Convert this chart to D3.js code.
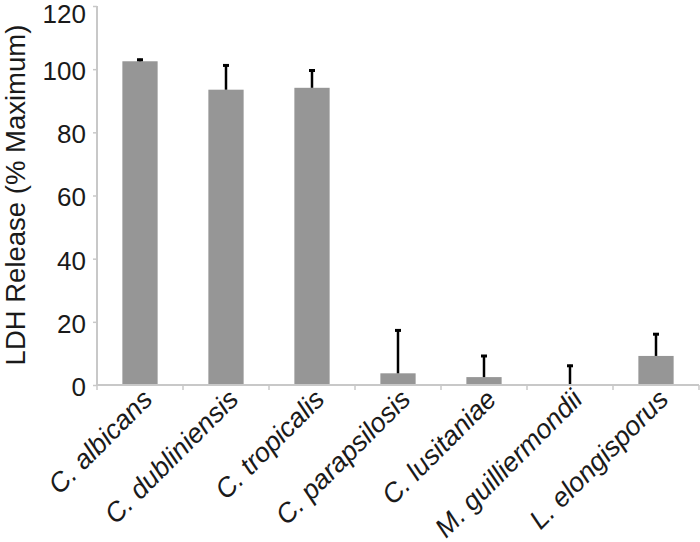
<!DOCTYPE html>
<html>
<head>
<meta charset="utf-8">
<script src="https://cdn.jsdelivr.net/npm/d3@7"></script>
<style>
    body { margin: 0; background: #fff; }
    text { font-family: "Liberation Sans", Arial, sans-serif; fill: #1a1a1a; }
</style>
</head>
<body>
<svg id="chart" width="700" height="542"></svg>
<script>
"use strict";

const species = ["C. albicans", "C. dubliniensis", "C. tropicalis", "C. parapsilosis",
    "C. lusitaniae", "M. guilliermondii", "L. elongisporus"];
const ldhRelease = [102.5, 93.5, 94.1, 3.7, 2.5, 0, 9.2];
const errorUpper = [103.3, 101.5, 99.9, 17.6, 9.5, 6.4, 16.4];
const yTicks = [0, 20, 40, 60, 80, 100, 120];

(function () {
    const svg = d3.select("#chart");
    const margin = { top: 6, right: 1, bottom: 157, left: 97 };
    const width = 700 - margin.left - margin.right;
    const height = 542 - margin.top - margin.bottom;

    const g = svg.append("g").attr("transform", `translate(${margin.left},${margin.top})`);

    const x = d3.scaleBand().domain(species).range([0, width]).padding(0);
    const y = d3.scaleLinear().domain([0, 120]).range([height, 0]);

    const data = species.map((s, i) => ({ name: s, value: ldhRelease[i], err: errorUpper[i] }));
    const barW = x.bandwidth() * 0.41;

    // bars
    g.selectAll("rect.bar")
        .data(data)
        .enter()
        .append("rect")
        .attr("class", "bar")
        .attr("x", d => x(d.name) + (x.bandwidth() - barW) / 2)
        .attr("y", d => y(d.value))
        .attr("width", barW)
        .attr("height", d => y(0) - y(d.value))
        .style("fill", "#969696");

    // error bars (upper only)
    const cx = d => x(d.name) + x.bandwidth() / 2;
    g.selectAll("line.err")
        .data(data)
        .enter()
        .append("line")
        .attr("x1", cx).attr("x2", cx)
        .attr("y1", d => y(d.value))
        .attr("y2", d => y(d.err))
        .style("stroke", "#000")
        .style("stroke-width", 2.5);

    g.selectAll("line.cap")
        .data(data)
        .enter()
        .append("line")
        .attr("x1", d => cx(d) - 3).attr("x2", d => cx(d) + 3)
        .attr("y1", d => y(d.err) + 1)
        .attr("y2", d => y(d.err) + 1)
        .style("stroke", "#000")
        .style("stroke-width", 3);

    // y axis
    const yAxis = g.append("g")
        .call(d3.axisLeft(y).tickValues(yTicks).tickSize(4).tickPadding(7));
    yAxis.select(".domain").style("stroke", "#c8c8c8").style("stroke-width", 2)
        .attr("d", `M0,${height}V0`);
    yAxis.selectAll(".tick line").style("stroke", "#c8c8c8").style("stroke-width", 1.5);
    yAxis.selectAll(".tick text")
        .style("font-size", "26px")
        .attr("dy", "0.36em")
        .attr("y", d => d === 120 ? 7 : 1);   // top label pushed down to fit, like the original

    // x axis
    const xAxis = g.append("g")
        .attr("transform", `translate(0,${height})`)
        .call(d3.axisBottom(x).tickSize(0).tickFormat(""));
    xAxis.select(".domain").style("stroke", "#c8c8c8").style("stroke-width", 2)
        .attr("d", `M0,0H${width}`);
    xAxis.selectAll(".tick").remove();

    // boundary ticks between categories
    const bounds = species.map(s => x(s)).concat([width]);
    xAxis.selectAll("line.bound")
        .data(bounds)
        .enter()
        .append("line")
        .attr("x1", d => d).attr("x2", d => d)
        .attr("y1", 0).attr("y2", 5)
        .style("stroke", "#c8c8c8")
        .style("stroke-width", 1.5);

    // rotated category labels
    xAxis.selectAll("text.lab")
        .data(species)
        .enter()
        .append("text")
        .attr("class", "lab")
        .attr("transform", d => `translate(${x(d) + x.bandwidth() / 2 + 14},16) rotate(-45)`)
        .attr("text-anchor", "end")
        .style("font-size", "27px")
        .style("font-style", "italic")
        .text(d => d);

    // y axis title
    svg.append("text")
        .attr("transform", `translate(25,195) rotate(-90)`)
        .attr("text-anchor", "middle")
        .style("font-size", "27.5px")
        .text("LDH Release (% Maximum)");
})();
</script>
</body>
</html>
